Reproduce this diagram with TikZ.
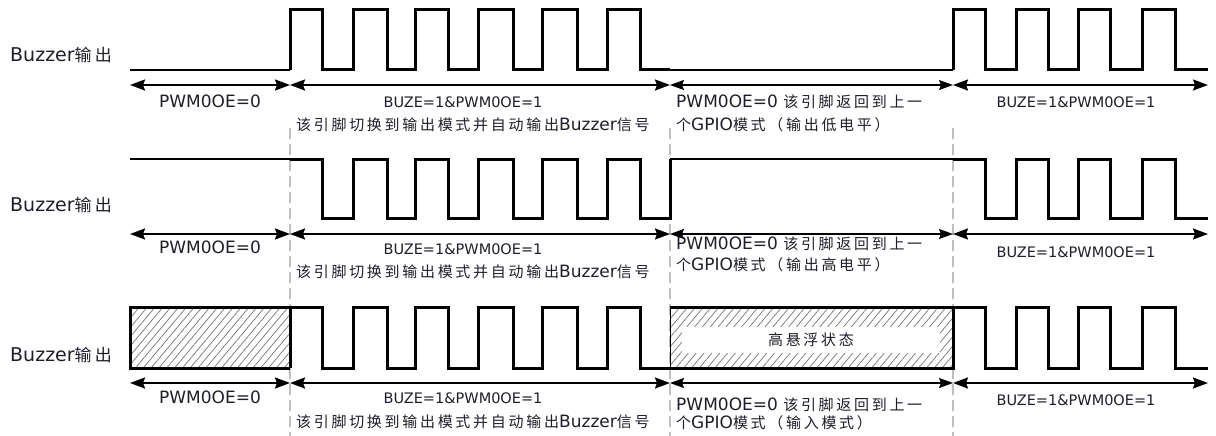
\documentclass[tikz,border=0pt]{standalone}
\usepackage{fontspec}
\setmainfont{DejaVu Sans}
\newfontfamily\cjkfont[LetterSpace=18]{Noto Sans CJK SC}
\usetikzlibrary{arrows.meta,patterns.meta}
\definecolor{txt}{HTML}{1E1E28}
\newcommand\zh[1]{{\fontsize{15}{18}\selectfont\cjkfont #1}}
\newcommand\zhb[1]{{\fontsize{17}{20}\selectfont\cjkfont #1}}
\begin{document}
\begin{tikzpicture}[x=1pt,y=-1pt,
  wave/.style={line width=3pt, line join=miter},
  thinwave/.style={line width=1.6pt},
  dimarrow/.style={line width=2pt, {Stealth[length=15pt,width=11pt,inset=2pt]}-{Stealth[length=15pt,width=11pt,inset=2pt]}},
  dimthin/.style={line width=1.1pt, {Stealth[length=14pt,width=10pt,inset=2pt]}-{Stealth[length=14pt,width=10pt,inset=2pt]}},
  guide/.style={draw=gray!50, line width=2pt, dash pattern=on 11pt off 5pt},
  lbl/.style={font=\fontsize{19}{22}\selectfont, inner sep=0pt, anchor=west, text=txt},
  big/.style={font=\fontsize{17}{20}\selectfont, inner sep=0pt, text=txt},
  small/.style={font=\fontsize{14.5}{17}\selectfont, inner sep=0pt, text=txt},
  hatch/.style={pattern={Lines[angle=50,distance=6pt,line width=0.7pt]}, pattern color=gray!90!black}
]
\useasboundingbox (0,0) rectangle (1216,436);

% guide lines
\draw[guide] (290,128) -- (290,436);
\draw[guide] (670,128) -- (670,436);
\draw[guide] (953,128) -- (953,436);

% ---------------- Row 1 ----------------
\node[lbl] (lab1) at (10,55) {Buzzer\zhb{输出}};
\draw[thinwave] (130,70) -- (290,70);
\draw[thinwave] (670,70) -- (953,70);
\draw[wave] (290,70) -- (290,10) -- (322,10) -- (322,70) -- (353,70) -- (353,10) -- (387,10) -- (387,70) -- (415,70) -- (415,10) -- (448,10) -- (448,70) -- (478,70) -- (478,10) -- (513,10) -- (513,70) -- (542,70) -- (542,10) -- (577,10) -- (577,70) -- (607,70) -- (607,10) -- (640,10) -- (640,70) -- (670,70);
\draw[wave] (953,70) -- (953,10) -- (985,10) -- (985,70) -- (1016,70) -- (1016,10) -- (1048,10) -- (1048,70) -- (1078,70) -- (1078,10) -- (1110,10) -- (1110,70) -- (1142,70) -- (1142,10) -- (1175,10) -- (1175,70) -- (1208,70);

\coordinate (a0) at (130,85);
\coordinate (a1) at (290,85);
\coordinate (a2) at (670,85);
\coordinate (a3) at (953,85);
\coordinate (a4) at (1208,85);
\draw[dimarrow] (a0) -- (a1);
\draw[dimarrow] (a1) -- (a2);
\draw[dimthin] (a2) -- (a3);
\draw[dimarrow] (a3) -- (a4);

\node[big] (p1a) at (210,101) {PWM0OE=0};
\node[small] (p1b) at (463,102) {BUZE=1\&PWM0OE=1};
\node[big, anchor=west] (p1c) at (296,125) {\zh{该引脚切换到输出模式并自动输}\,\zh{出}Buzzer\zh{信号}};
\node[big, anchor=west] (p1d) at (676,102) {PWM0OE=0 \zh{该引脚返回到上一}};
\node[big, anchor=west] (p1e) at (676,125) {\zh{个}GPIO\zh{模式（输出低电平）}};
\node[small] (p1f) at (1076,102) {BUZE=1\&PWM0OE=1};

% ---------------- Row 2 ----------------
\node[lbl] (lab2) at (10,205) {Buzzer\zhb{输出}};
\draw[thinwave] (130,159) -- (290,159);
\draw[thinwave] (670,159) -- (953,159);
\draw[wave] (290,159) -- (322,159) -- (322,218) -- (353,218) -- (353,159) -- (387,159) -- (387,218) -- (415,218) -- (415,159) -- (448,159) -- (448,218) -- (478,218) -- (478,159) -- (513,159) -- (513,218) -- (542,218) -- (542,159) -- (577,159) -- (577,218) -- (607,218) -- (607,159) -- (640,159) -- (640,218) -- (670,218) -- (670,159);
\draw[wave] (953,159) -- (985,159) -- (985,218) -- (1016,218) -- (1016,159) -- (1048,159) -- (1048,218) -- (1078,218) -- (1078,159) -- (1110,159) -- (1110,218) -- (1142,218) -- (1142,159) -- (1175,159) -- (1175,218) -- (1208,218);

\coordinate (b0) at (130,234);
\coordinate (b1) at (290,234);
\coordinate (b2) at (670,234);
\coordinate (b3) at (953,234);
\coordinate (b4) at (1208,234);
\draw[dimarrow] (b0) -- (b1);
\draw[dimarrow] (b1) -- (b2);
\draw[dimthin] (b2) -- (b3);
\draw[dimarrow] (b3) -- (b4);

\node[big] (p2a) at (210,247) {PWM0OE=0};
\node[small] (p2b) at (463,249) {BUZE=1\&PWM0OE=1};
\node[big, anchor=west] (p2c) at (296,272) {\zh{该引脚切换到输出模式并自动输}\,\zh{出}Buzzer\zh{信号}};
\node[big, anchor=west] (p2d) at (676,244) {PWM0OE=0 \zh{该引脚返回到上一}};
\node[big, anchor=west] (p2e) at (676,265) {\zh{个}GPIO\zh{模式（输出高电平）}};
\node[small] (p2f) at (1076,252) {BUZE=1\&PWM0OE=1};

% ---------------- Row 3 ----------------
\node[lbl] (lab3) at (10,355) {Buzzer\zhb{输出}};
\fill[hatch] (130,307) rectangle (290,368);
\draw[wave] (290,307) -- (130,307) -- (130,368) -- (290,368);
\fill[hatch] (670,307) rectangle (953,368);
\draw[line width=1pt] (670,307) -- (670,368);
\node[fill=white, minimum width=258pt, minimum height=26pt, inner sep=0pt, text=txt] (float) at (811,339.5) {\zh{高悬浮状态}};
\draw[wave] (670,307) -- (953,307);
\draw[wave] (290,368) -- (290,307) -- (322,307) -- (322,368) -- (353,368) -- (353,307) -- (387,307) -- (387,368) -- (415,368) -- (415,307) -- (448,307) -- (448,368) -- (478,368) -- (478,307) -- (513,307) -- (513,368) -- (542,368) -- (542,307) -- (577,307) -- (577,368) -- (607,368) -- (607,307) -- (640,307) -- (640,368) -- (953,368) -- (953,307) -- (985,307) -- (985,368) -- (1016,368) -- (1016,307) -- (1048,307) -- (1048,368) -- (1078,368) -- (1078,307) -- (1110,307) -- (1110,368) -- (1142,368) -- (1142,307) -- (1175,307) -- (1175,368) -- (1208,368);

\coordinate (c0) at (130,383);
\coordinate (c1) at (290,383);
\coordinate (c2) at (670,383);
\coordinate (c3) at (953,383);
\coordinate (c4) at (1208,383);
\draw[dimarrow] (c0) -- (c1);
\draw[dimarrow] (c1) -- (c2);
\draw[dimthin] (c2) -- (c3);
\draw[dimarrow] (c3) -- (c4);

\node[big] (p3a) at (210,397) {PWM0OE=0};
\node[small] (p3b) at (463,398) {BUZE=1\&PWM0OE=1};
\node[big, anchor=west] (p3c) at (296,422) {\zh{该引脚切换到输出模式并自动输}\,\zh{出}Buzzer\zh{信号}};
\node[big, anchor=west] (p3d) at (676,405) {PWM0OE=0 \zh{该引脚返回到上一}};
\node[big, anchor=west] (p3e) at (676,423) {\zh{个}GPIO\zh{模式（输入模式）}};
\node[small] (p3f) at (1076,400) {BUZE=1\&PWM0OE=1};
\end{tikzpicture}
\end{document}
